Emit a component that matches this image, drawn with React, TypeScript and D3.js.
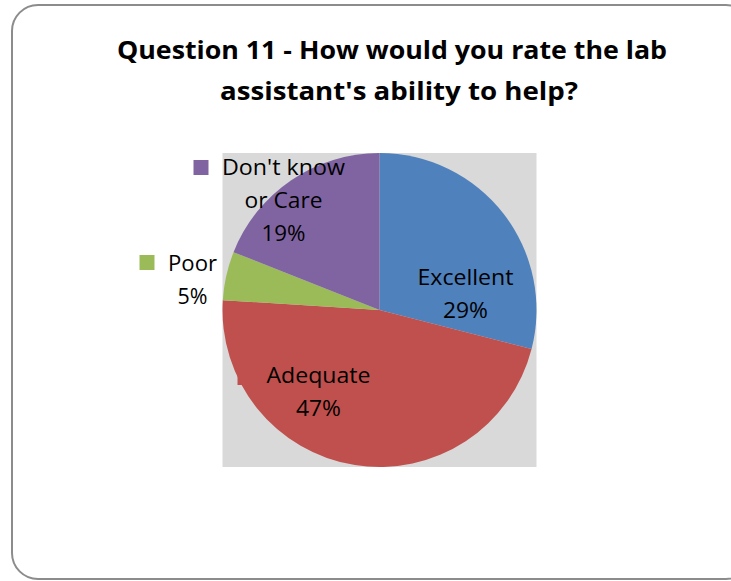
import * as React from "react";
import * as d3 from "d3";

const categories = ["Excellent", "Adequate", "Poor", "Don't know or Care"];
const shares = [29, 47, 5, 19];
const percentLabels = ["29%", "47%", "5%", "19%"];
const colors = ["#4F81BD", "#C0504D", "#9BBB59", "#8064A2"];
const titleLines = ["Question 11 - How would you rate the lab", "assistant's ability to help?"];

const width = 731;
const height = 581;
const cx = 379.5;
const cy = 310;
const radius = 157;
const font = "'Open Sans', 'Noto Sans', sans-serif";

export default function App() {
  const pie = d3
    .pie<number>()
    .sort(null)
    .value((d) => d);
  const arcs = pie(shares);
  const arc = d3.arc<d3.PieArcDatum<number>>().innerRadius(0).outerRadius(radius);

  // label layout (relative to pie centre), lines & keys as Excel placed them
  const labelLayout = [
    { lines: [["Excellent", 96], ["29%", 45]], x: 86, y: -25, key: null },
    { lines: [["Adequate", 104], ["47%", 45]], x: -61, y: 73, key: [-142, 60] },
    { lines: [["Poor", 49], ["5%", 30]], x: -187, y: -39, key: [-240, -55] },
    { lines: [["Don't know", 123], ["or Care", 78], ["19%", 44]], x: -96, y: -135, key: [-186, -150] },
  ];

  return (
    <svg width={width} height={height} style={{ position: "absolute", left: 0, top: 0 }}>
      <rect x={12} y={5} width={740} height={574} rx={26} fill="#fff" stroke="#8c8c8c" strokeWidth={2} />
      {titleLines.map((t, i) => (
        <text
          key={i}
          x={i === 0 ? 392 : 399}
          y={59 + i * 41}
          textAnchor="middle"
          fontFamily={font}
          fontWeight="bold"
          fontSize={25}
          textLength={i === 0 ? 550 : 358}
          lengthAdjust="spacingAndGlyphs"
          fill="#000"
        >
          {t}
        </text>
      ))}
      <rect x={cx - radius} y={cy - radius} width={radius * 2} height={radius * 2} fill="#D9D9D9" />
      <g transform={`translate(${cx},${cy})`}>
        {labelLayout.map((l, i) =>
          l.key ? <rect key={"k" + i} x={l.key[0]} y={l.key[1]} width={15} height={15} fill={colors[i]} /> : null
        )}
        {arcs.map((a, i) => (
          <path key={categories[i]} d={arc(a) || ""} fill={colors[i]} />
        ))}
        {labelLayout.map((l, i) => (
          <g key={"l" + i}>
            {l.lines.map(([t, w], j) => (
              <text
                key={j}
                x={l.x}
                y={l.y + j * 33}
                textAnchor="middle"
                fontFamily={font}
                fontSize={21}
                textLength={w as number}
                lengthAdjust="spacingAndGlyphs"
                fill="#000"
              >
                {j === l.lines.length - 1 ? percentLabels[i] : t}
              </text>
            ))}
          </g>
        ))}
      </g>
    </svg>
  );
}
